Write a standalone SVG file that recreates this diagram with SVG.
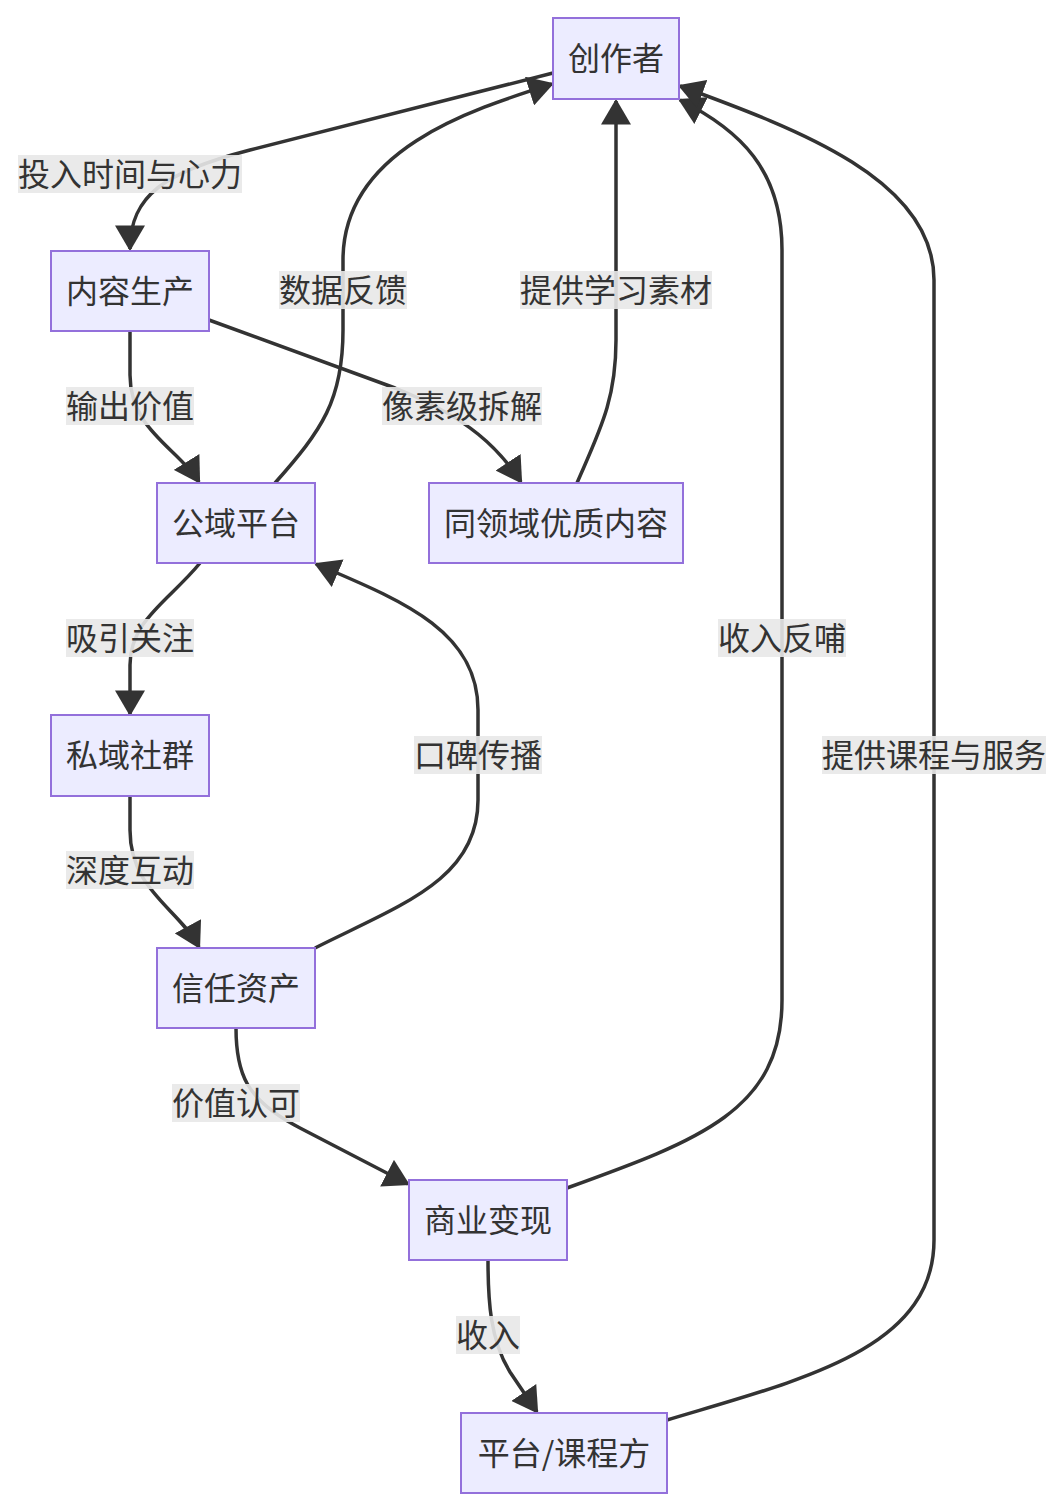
<svg xmlns="http://www.w3.org/2000/svg" width="1064" height="1510" viewBox="0 0 1064 1510">
<defs>
<style>
.node rect{fill:#ECECFF;stroke:#9370DB;stroke-width:2}
.node text{font-family:"Noto Sans CJK SC","Noto Sans",sans-serif;font-size:32px;fill:#333;text-anchor:middle;dominant-baseline:central}
.edges path{fill:none;stroke:#333;stroke-width:3.5;marker-end:url(#arr)}
.lbl rect{fill:#e8e8e8;fill-opacity:0.9}
.lbl text{font-family:"Noto Sans CJK SC","Noto Sans",sans-serif;font-size:32px;fill:#333;text-anchor:middle;dominant-baseline:central}
</style>
<marker id="arr" markerUnits="userSpaceOnUse" markerWidth="26" markerHeight="30" viewBox="0 0 24 28" refX="22" refY="14" orient="auto">
<path d="M0,0 L24,14 L0,28 z" fill="#333"/>
</marker>
</defs>
<rect width="1064" height="1510" fill="#fff"/>
<g class="edges" id="edges">
<path d="M553,73 L250,150 C165,172 130,195 130,249"/>
<path d="M130,331 L130,375 C130,430 178,448 199,482"/>
<path d="M209,320 L395,388 C470,418 500,450 521,482"/>
<path d="M275,483 C322,430 343,400 343,330 L343,260 C343,150 470,110 552,84"/>
<path d="M577,483 C600,430 616,400 616,340 L616,101"/>
<path d="M200,563 C170,600 130,620 130,665 L130,714"/>
<path d="M130,796 L130,830 C130,890 178,908 199,947"/>
<path d="M315,948 C400,905 478,880 478,800 L478,710 C478,630 400,600 316,564"/>
<path d="M236,1028 C236,1072 245,1100 300,1128 L408,1184"/>
<path d="M567,1188 C700,1140 782,1110 782,1000 L782,250 C782,170 740,130 680,100"/>
<path d="M488,1260 C488,1300 490,1340 510,1372 L537,1412"/>
<path d="M667,1420 C800,1380 934,1350 934,1240 L934,280 C934,180 800,130 680,86"/>
</g>
<g class="lbl">
<rect x="18" y="155" width="224" height="38"/><text x="130" y="172">投入时间与心力</text>
<rect x="66" y="387" width="128" height="38"/><text x="130" y="404">输出价值</text>
<rect x="382" y="387" width="160" height="38"/><text x="462" y="404">像素级拆解</text>
<rect x="279" y="271" width="128" height="38"/><text x="343" y="288">数据反馈</text>
<rect x="520" y="271" width="192" height="38"/><text x="616" y="288">提供学习素材</text>
<rect x="66" y="619" width="128" height="38"/><text x="130" y="636">吸引关注</text>
<rect x="414" y="736" width="128" height="38"/><text x="478" y="753">口碑传播</text>
<rect x="66" y="851" width="128" height="38"/><text x="130" y="868">深度互动</text>
<rect x="172" y="1084" width="128" height="38"/><text x="236" y="1101">价值认可</text>
<rect x="718" y="619" width="128" height="38"/><text x="782" y="636">收入反哺</text>
<rect x="822" y="736" width="224" height="38"/><text x="934" y="753">提供课程与服务</text>
<rect x="456" y="1316" width="64" height="38"/><text x="488" y="1333">收入</text>
</g>
<g class="node" id="n-creator"><rect x="553" y="18" width="126" height="81"/><text x="616" y="56">创作者</text></g>
<g class="node" id="n-produce"><rect x="51" y="251" width="158" height="80"/><text x="130" y="289">内容生产</text></g>
<g class="node" id="n-public"><rect x="157" y="483" width="158" height="80"/><text x="236" y="521">公域平台</text></g>
<g class="node" id="n-same"><rect x="429" y="483" width="254" height="80"/><text x="556" y="521">同领域优质内容</text></g>
<g class="node" id="n-private"><rect x="51" y="715" width="158" height="81"/><text x="130" y="753">私域社群</text></g>
<g class="node" id="n-trust"><rect x="157" y="948" width="158" height="80"/><text x="236" y="986">信任资产</text></g>
<g class="node" id="n-monet"><rect x="409" y="1180" width="158" height="80"/><text x="488" y="1218">商业变现</text></g>
<g class="node" id="n-platform"><rect x="461" y="1413" width="206" height="80"/><text x="564" y="1451">平台/课程方</text></g>
</svg>
